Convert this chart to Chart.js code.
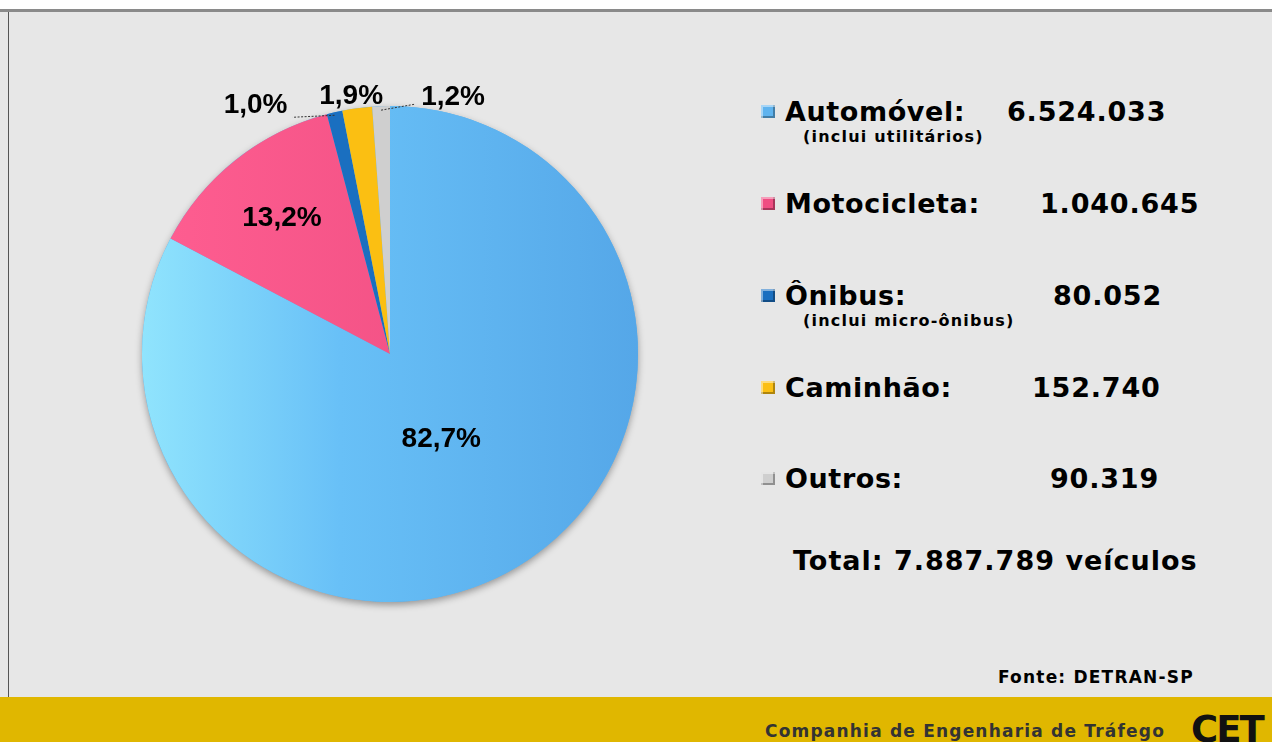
<!DOCTYPE html>
<html lang="pt-BR">
<head>
<meta charset="utf-8">
<title>Frota de veículos</title>
<script src="https://cdn.jsdelivr.net/npm/chart.js@4.4.1/dist/chart.umd.min.js"></script>
<style>
  html, body { margin: 0; padding: 0; }
  body { width: 1272px; height: 742px; overflow: hidden; position: relative; background: #e7e7e7;
         font-family: "DejaVu Sans", Verdana, sans-serif; font-weight: bold; color: #000; }
  #topo { position: absolute; left: 0; top: 0; width: 1272px; height: 9px; background: #fff; border-bottom: 3px solid #8a8a8a; }
  #borda { position: absolute; left: 8px; top: 12px; width: 1px; height: 685px; background: #555; }
  #grafico { position: absolute; left: 90px; top: 60px; width: 600px; height: 580px; }
  .item { position: absolute; left: 785px; font-size: 27px; line-height: 32px; letter-spacing: 0.6px; white-space: nowrap; }
  .valor { position: absolute; font-size: 27px; line-height: 32px; letter-spacing: 0.8px; white-space: nowrap; }
  .obs { position: absolute; left: 803px; font-size: 16px; line-height: 18px; letter-spacing: 1.2px; white-space: nowrap; }
  .cor { position: absolute; left: 761px; width: 14px; height: 13px;
         box-shadow: inset 2px 2px 0 rgba(255,255,255,.45), inset -2px -2px 0 rgba(0,0,0,.3); }
  #total { position: absolute; left: 793px; top: 545px; font-size: 27px; line-height: 32px; letter-spacing: 1px; white-space: nowrap; }
  #fonte { position: absolute; left: 998px; top: 667px; font-size: 17px; line-height: 20px; letter-spacing: 1.2px; white-space: nowrap; }
  #rodape { position: absolute; left: 0; top: 697px; width: 1272px; height: 45px; background: #e0b700; }
  #empresa { position: absolute; left: 765px; top: 720px; font-size: 17px; line-height: 22px; letter-spacing: 1.2px; color: #333; white-space: nowrap; }
  #logo { position: absolute; left: 1191px; top: 710px; font-size: 37px; line-height: 40px; letter-spacing: -2px;
          font-family: "DejaVu Sans", sans-serif; color: #111; }
</style>
</head>
<body>
<div id="topo"></div>
<div id="borda"></div>
<div id="grafico"><canvas id="pizza"></canvas></div>
<div id="legenda"></div>
<div id="total"></div>
<div id="fonte">Fonte: DETRAN-SP</div>
<div id="rodape"></div>
<div id="empresa">Companhia de Engenharia de Tráfego</div>
<div id="logo">CET</div>
<script>
const categorias = ['Automóvel', 'Motocicleta', 'Ônibus', 'Caminhão', 'Outros'];
const veiculos = [6524033, 1040645, 80052, 152740, 90319];
const percentuais = ['82,7%', '13,2%', '1,0%', '1,9%', '1,2%'];
const observacoes = ['(inclui utilitários)', '', '(inclui micro-ônibus)', '', ''];

// cores e posições (estilo)
const cores = ['#5fb3ee', '#ef4d82', '#1a6fc0', '#fbbf12', '#cfcfcf'];
const gradientes = [
  [[0, '#90e4fd'], [0.4, '#68c0f7'], [1, '#55a7e8']],
  [[0, '#ff5e91'], [1, '#e9497d']],
  null, null, null
];
const topoItens = [96, 188, 280, 372, 463];
const xValores = [1007, 1040, 1053, 1032, 1050];
const posRotulo = [
  { r: 0.40 },
  { r: 0.70 },
  { r: 1, dx: -79, dy: -7, linha: [[0, 3], [-42, 5]] },
  { r: 1, dx: -6, dy: -12 },
  { r: 1, dx: 72, dy: -9, linha: [[0, 4], [34, -2]] }
];

const fmt = n => n.toString().replace(/\B(?=(\d{3})+(?!\d))/g, '.');

document.getElementById('legenda').innerHTML = categorias.map((c, i) => `
  <div class="cor" style="top:${topoItens[i] + 9}px;background:${cores[i]}"></div>
  <div class="item" style="top:${topoItens[i]}px">${c}:</div>
  <div class="valor" style="top:${topoItens[i]}px;left:${xValores[i]}px">${fmt(veiculos[i])}</div>
  ${observacoes[i] ? `<div class="obs" style="top:${topoItens[i] + 32}px">${observacoes[i]}</div>` : ''}
`).join('');
document.getElementById('total').textContent = 'Total: ' + fmt(veiculos.reduce((a, b) => a + b, 0)) + ' veículos';

const sombra = {
  id: 'sombra',
  beforeDatasetsDraw(chart) {
    const arc = chart.getDatasetMeta(0).data[0];
    if (!arc) return;
    const ctx = chart.ctx;
    ctx.save();
    ctx.shadowColor = 'rgba(0,0,0,0.35)';
    ctx.shadowBlur = 7;
    ctx.shadowOffsetY = 3;
    ctx.fillStyle = '#5aaeea';
    ctx.beginPath();
    ctx.arc(arc.x, arc.y, arc.outerRadius, 0, Math.PI * 2);
    ctx.fill();
    ctx.restore();
  }
};

const rotulos = {
  id: 'rotulos',
  afterDatasetsDraw(chart) {
    const ctx = chart.ctx;
    chart.getDatasetMeta(0).data.forEach((arc, i) => {
      const p = arc.getProps(['x', 'y', 'startAngle', 'endAngle', 'outerRadius'], true);
      const meio = (p.startAngle + p.endAngle) / 2;
      const cfg = posRotulo[i];
      const px = p.x + Math.cos(meio) * p.outerRadius * cfg.r;
      const py = p.y + Math.sin(meio) * p.outerRadius * cfg.r;
      ctx.save();
      if (cfg.linha) {
        ctx.strokeStyle = '#333';
        ctx.lineWidth = 1;
        ctx.setLineDash([2, 1.5]);
        ctx.beginPath();
        ctx.moveTo(px + cfg.linha[0][0], py + cfg.linha[0][1]);
        ctx.lineTo(px + cfg.linha[1][0], py + cfg.linha[1][1]);
        ctx.stroke();
        ctx.setLineDash([]);
      }
      ctx.fillStyle = '#000';
      ctx.font = 'bold 28px "Liberation Sans", Arial, sans-serif';
      ctx.textAlign = 'center';
      ctx.textBaseline = 'middle';
      ctx.fillText(percentuais[i], px + (cfg.dx || 0), py + (cfg.dy || 0));
      ctx.restore();
    });
  }
};

function preenchimento(context) {
  const i = context.dataIndex;
  const area = context.chart.chartArea;
  if (!gradientes[i] || !area) return cores[i];
  const g = context.chart.ctx.createLinearGradient(area.left, 0, area.right, 0);
  gradientes[i].forEach(([o, c]) => g.addColorStop(o, c));
  return g;
}

new Chart(document.getElementById('pizza'), {
  type: 'pie',
  data: {
    labels: categorias,
    datasets: [{ data: veiculos, backgroundColor: preenchimento, borderWidth: 0 }]
  },
  options: {
    responsive: true,
    maintainAspectRatio: false,
    animation: false,
    layout: { padding: { top: 46, bottom: 38, left: 52, right: 52 } },
    plugins: { legend: { display: false }, tooltip: { enabled: false } }
  },
  plugins: [sombra, rotulos]
});
</script>
</body>
</html>
